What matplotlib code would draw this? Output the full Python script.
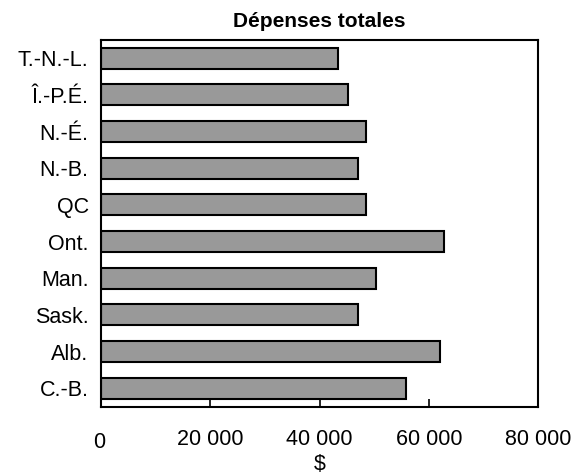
import numpy as np
import matplotlib
matplotlib.use("Agg")
import matplotlib.pyplot as plt
import matplotlib.transforms as mtransforms
from matplotlib.ticker import FuncFormatter

plt.rcParams['font.family'] = ['Liberation Sans', 'DejaVu Sans']

provinces = ['T.-N.-L.', 'Î.-P.É.', 'N.-É.', 'N.-B.', 'QC',
             'Ont.', 'Man.', 'Sask.', 'Alb.', 'C.-B.']
depenses = [43400, 45200, 48500, 47000, 48500,
            62700, 50300, 47000, 62000, 55800]
xticks = [0, 20000, 40000, 60000, 80000]

fig = plt.figure(figsize=(5.88, 4.75), dpi=100)
ax = fig.add_axes([0.172, 0.144, 0.743, 0.772])

y = np.arange(len(provinces))
ax.barh(y, depenses, height=0.57, color='#999999', edgecolor='black', linewidth=1.5)
ax.set_ylim(len(provinces) - 0.5, -0.5)
ax.set_yticks(y)
ax.set_yticklabels(provinces, fontsize=15.5)
ax.tick_params(axis='y', length=0, pad=9)

ax.set_xlim(0, 80000)
ax.set_xticks(xticks)
ax.xaxis.set_major_formatter(FuncFormatter(lambda v, p: f"{int(v):,}".replace(',', ' ')))
ax.tick_params(axis='x', direction='in', length=6, width=1.2, labelsize=15.5, pad=16)

for s in ax.spines.values():
    s.set_linewidth(1.5)

ax.set_xlabel('$', fontsize=15.5)
ax.xaxis.set_label_coords(0.5, -0.128)
ax.set_title('Dépenses totales', fontsize=15, fontweight='bold', pad=9)

# le "0" est un peu plus bas et à gauche dans l'original
lbl0 = ax.get_xticklabels()[0]
lbl0.set_transform(lbl0.get_transform() + mtransforms.ScaledTranslation(-2/100, -3/100, fig.dpi_scale_trans))

fig.savefig('out.png', dpi=100)
